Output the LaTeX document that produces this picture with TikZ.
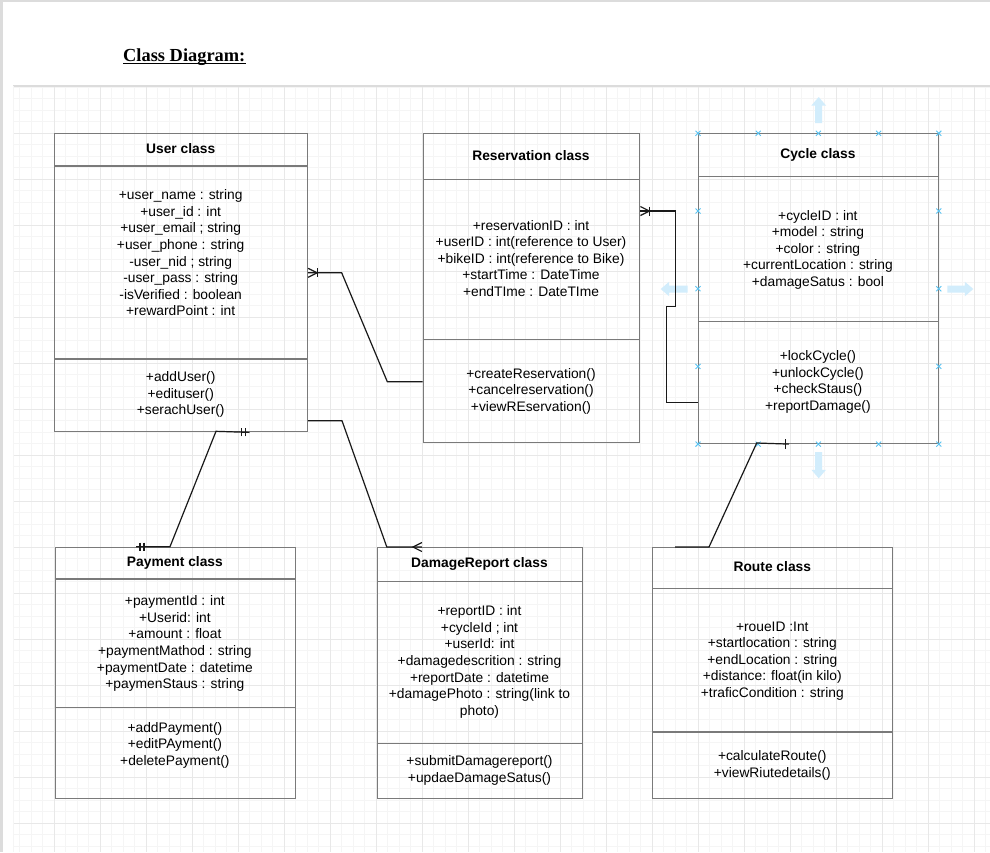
\documentclass[tikz,border=0pt]{standalone}
\usepackage{fontspec}
\setmainfont{Liberation Sans}
\newfontfamily\titlefont{Liberation Serif}
\usetikzlibrary{calc}

\definecolor{gridminor}{RGB}{245,245,245}
\definecolor{gridmajor}{RGB}{232,232,232}
\definecolor{gridedge}{RGB}{220,220,220}
\definecolor{boxgray}{RGB}{122,122,122}
\definecolor{connblack}{RGB}{25,25,25}
\definecolor{selblue}{RGB}{90,195,242}
\definecolor{hoverblue}{RGB}{210,237,252}

\tikzset{
  classbox/.style={draw=boxgray, line width=1.1pt, inner sep=0pt, anchor=north west},
  divider/.style={draw=boxgray, line width=1.1pt},
  hdr/.style={font=\fontsize{13.8}{16.6}\selectfont\bfseries, inner sep=0pt, anchor=center},
  body/.style={font=\fontsize{13.8}{16.6}\selectfont, align=center, inner sep=0pt, anchor=center},
  conn/.style={draw=connblack, line width=1.2pt, line join=miter},
  crowbar/.pic={\draw[conn] (0,-4.5) -- (9,0) -- (0,4.5); \draw[conn] (9,-4.5) -- (9,4.5);},
  crowonly/.pic={\draw[conn] (0,-4.5) -- (9,0) -- (0,4.5);},
  twobars/.pic={\draw[conn] (4,-4) -- (4,4) (8,-4) -- (8,4);},
  onebar/.pic={\draw[conn] (3.3,-5) -- (3.3,5);},
  selx/.pic={\draw[selblue, line width=0.9pt] (-2.5,-2.5) -- (2.5,2.5) (-2.5,2.5) -- (2.5,-2.5);}
}

\begin{document}
\begin{tikzpicture}[x=1pt, y=-1pt]
\useasboundingbox (0,0) rectangle (990,852);
\fill[white] (0,0) rectangle (990,852);
% page frame shadow
\fill[gridedge] (0,0) rectangle (990,1.7);
\fill[gridedge] (0,0) rectangle (3,852);

% grid
\foreach \i in {1,...,85} {\draw[gridminor, line width=0.9pt] ({8.3+11.5*\i},86) -- ({8.3+11.5*\i},852);}
\foreach \j in {0,...,66} {\draw[gridminor, line width=0.9pt] (13,{87+11.5*\j}) -- (990,{87+11.5*\j});}
\foreach \i in {0,...,20} {\draw[gridmajor, line width=0.9pt] ({54.3+46*\i},86) -- ({54.3+46*\i},852);}
\foreach \j in {1,...,16} {\draw[gridmajor, line width=0.9pt] (13,{87+46*\j}) -- (990,{87+46*\j});}
\draw[gridedge, line width=1.5pt] (13,86) -- (990,86);
\draw[gridminor, line width=0.9pt] (13,86) -- (13,852);

% title
\node[font=\titlefont\bfseries\fontsize{18.4}{22}\selectfont, anchor=base west, inner sep=0pt] (title) at (123,61.7) {Class Diagram:};
\draw[line width=1.3pt] ([yshift=-1.8pt]title.base west) -- ([yshift=-1.8pt]title.base east);

% ---------- User class ----------
\node[classbox, minimum width=252.7pt, minimum height=298.3pt] (user) at (54.3,133) {};
\draw[divider] (user.west |- 0,166) -- (user.east |- 0,166);
\draw[divider] (user.west |- 0,359) -- (user.east |- 0,359);
\node[hdr] (userT) at (180.7,149.7) {\strut User class};
\node[body] (userA) at (180.7,254.5) {\strut+user\_name : string\\\strut+user\_id : int\\\strut+user\_email ; string\\\strut+user\_phone : string\\\strut-user\_nid ; string\\\strut-user\_pass : string\\\strut-isVerified : boolean\\\strut+rewardPoint : int};
\node[body] (userM) at (180.7,395) {\strut+addUser()\\\strut+edituser()\\\strut+serachUser()};

% ---------- Reservation class ----------
\node[classbox, minimum width=216.6pt, minimum height=309pt] (resv) at (422.7,133.3) {};
\draw[divider] (resv.west |- 0,179.3) -- (resv.east |- 0,179.3);
\draw[divider] (resv.west |- 0,339.3) -- (resv.east |- 0,339.3);
\node[hdr] (resvT) at (531,156.7) {\strut Reservation class};
\node[body] (resvA) at (531,259.9) {\strut+reservationID : int\\\strut+userID : int(reference to User)\\\strut+bikeID : int(reference to Bike)\\\strut+startTime : DateTime\\\strut+endTIme : DateTIme};
\node[body] (resvM) at (531,391.6) {\strut+createReservation()\\\strut+cancelreservation()\\\strut+viewREservation()};

% ---------- Cycle class ----------
\node[classbox, minimum width=239.7pt, minimum height=309.7pt] (cycle) at (698,133.3) {};
\draw[divider] (cycle.west |- 0,176.3) -- (cycle.east |- 0,176.3);
\draw[divider] (cycle.west |- 0,321.7) -- (cycle.east |- 0,321.7);
\node[hdr] (cycleT) at (817.9,155) {\strut Cycle class};
\node[body] (cycleA) at (817.9,249.9) {\strut+cycleID : int\\\strut+model : string\\\strut+color : string\\\strut+currentLocation : string\\\strut+damageSatus : bool};
\node[body] (cycleM) at (817.9,382.3) {\strut+lockCycle()\\\strut+unlockCycle()\\\strut+checkStaus()\\\strut+reportDamage()};

% ---------- Payment class ----------
\node[classbox, minimum width=240.3pt, minimum height=251.6pt] (pay) at (54.7,546.7) {};
\draw[divider] (pay.west |- 0,579) -- (pay.east |- 0,579);
\draw[divider] (pay.west |- 0,707.7) -- (pay.east |- 0,707.7);
\node[hdr] (payT) at (174.9,563) {\strut Payment class};
\node[body] (payA) at (174.9,643.9) {\strut+paymentId : int\\\strut+Userid: int\\\strut+amount : float\\\strut+paymentMathod : string\\\strut+paymentDate : datetime\\\strut+paymenStaus : string};
\node[body] (payM) at (174.9,745.6) {\strut+addPayment()\\\strut+editPAyment()\\\strut+deletePayment()};

% ---------- DamageReport class ----------
\node[classbox, minimum width=205.6pt, minimum height=251.3pt] (dmg) at (376.7,547) {};
\draw[divider] (dmg.west |- 0,581.3) -- (dmg.east |- 0,581.3);
\draw[divider] (dmg.west |- 0,743.3) -- (dmg.east |- 0,743.3);
\node[hdr] (dmgT) at (479.5,564) {\strut DamageReport class};
\node[body] (dmgA) at (479.5,662.2) {\strut+reportID : int\\\strut+cycleId ; int\\\strut+userId: int\\\strut+damagedescrition : string\\\strut+reportDate : datetime\\\strut+damagePhoto : string(link to\\\strut photo)};
\node[body] (dmgM) at (479.5,770.7) {\strut+submitDamagereport()\\\strut+updaeDamageSatus()};

% ---------- Route class ----------
\node[classbox, minimum width=240pt, minimum height=251.3pt] (route) at (652.3,547) {};
\draw[divider] (route.west |- 0,588.3) -- (route.east |- 0,588.3);
\draw[divider] (route.west |- 0,732) -- (route.east |- 0,732);
\node[hdr] (routeT) at (772.3,567.7) {\strut Route class};
\node[body] (routeA) at (772.3,660.9) {\strut+roueID :Int\\\strut+startlocation : string\\\strut+endLocation : string\\\strut+distance: float(in kilo)\\\strut+traficCondition : string};
\node[body] (routeM) at (772.3,765.7) {\strut+calculateRoute()\\\strut+viewRiutedetails()};

% ---------- selection decorations on Cycle class ----------
\foreach \t in {0,0.25,0.5,0.75,1} {
  \pic at ($(cycle.north west)!\t!(cycle.north east)$) {selx};
  \pic at ($(cycle.south west)!\t!(cycle.south east)$) {selx};
}
\foreach \t in {0.25,0.5,0.75} {
  \pic at ($(cycle.north west)!\t!(cycle.south west)$) {selx};
  \pic at ($(cycle.north east)!\t!(cycle.south east)$) {selx};
}
\fill[hoverblue] (818.7,97) -- (826,105.5) -- (822.2,105.5) -- (822.2,123) -- (815.2,123) -- (815.2,105.5) -- (811.4,105.5) -- cycle;
\fill[hoverblue] (818.7,478.3) -- (826,469.8) -- (822.2,469.8) -- (822.2,452) -- (815.2,452) -- (815.2,469.8) -- (811.4,469.8) -- cycle;
\fill[hoverblue] (660.7,289) -- (669.2,281.7) -- (669.2,285.5) -- (687.7,285.5) -- (687.7,292.5) -- (669.2,292.5) -- (669.2,296.3) -- cycle;
\fill[hoverblue] (973.3,289) -- (964.8,281.7) -- (964.8,285.5) -- (947.3,285.5) -- (947.3,292.5) -- (964.8,292.5) -- (964.8,296.3) -- cycle;

% ---------- connectors ----------
% User -> Reservation
\coordinate (ur) at (user.east |- 0,272.8);
\coordinate (rl) at (resv.west |- 0,381.7);
\draw[conn] (ur) -- (341.7,272.8) -- (387.3,381.7) -- (rl);
\pic at (ur) {crowbar};

% Reservation -> Cycle
\coordinate (rr) at (resv.east |- 0,211);
\coordinate (cl) at (cycle.west |- 0,402.3);
\draw[conn] (rr) -- (675.7,211) -- (675.7,306.7) -- (666.7,306.7) -- (666.7,402.3) -- (cl);
\pic at (rr) {crowbar};

% User -> Payment
\coordinate (ub) at (249.5,0 |- user.south);
\coordinate (pt) at (136,0 |- pay.north);
\draw[conn] (ub) -- (216,431.3) -- (170,546.7) -- (pt);
\pic[rotate=180] at (ub) {twobars};
\pic at (pt) {twobars};

% User -> DamageReport
\coordinate (ur2) at (user.east |- 0,420.7);
\coordinate (dt) at (421.9,0 |- dmg.north);
\draw[conn] (ur2) -- (342,420.7) -- (386.8,547) -- (dt);
\pic[rotate=180] at (dt) {crowonly};

% Cycle -> Route
\coordinate (cb) at (789,0 |- cycle.south);
\coordinate (rt) at (675,0 |- route.north);
\draw[conn] (cb) -- (756.7,443) -- (709,547) -- (rt);
\pic[rotate=180] at (cb) {onebar};
\end{tikzpicture}
\end{document}
